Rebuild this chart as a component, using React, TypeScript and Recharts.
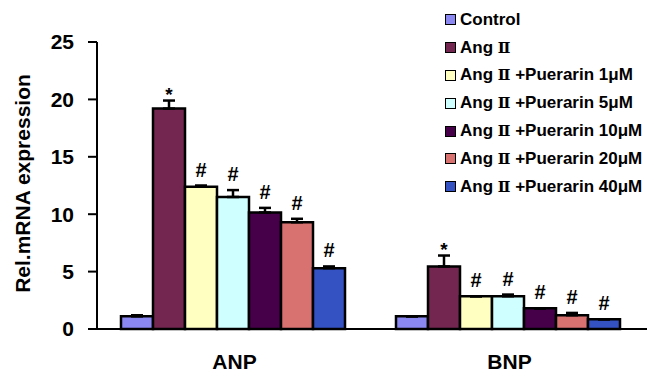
import React from 'react';
import { BarChart, Bar, XAxis, YAxis, ErrorBar, LabelList, Legend, Label } from 'recharts';

const categories = ['ANP', 'BNP'];
const groups = [
  'Control',
  'Ang Ⅱ',
  'Ang Ⅱ +Puerarin 1μM',
  'Ang Ⅱ +Puerarin 5μM',
  'Ang Ⅱ +Puerarin 10μM',
  'Ang Ⅱ +Puerarin 20μM',
  'Ang Ⅱ +Puerarin 40μM',
];
const COLORS = ['#8c88f2', '#73264f', '#ffffc2', '#d0ffff', '#46004a', '#d87270', '#3552c2'];

// one array per group: [ANP, BNP]
const control = [1.1, 1.1];
const angII = [19.2, 5.45];
const pue1 = [12.4, 2.85];
const pue5 = [11.5, 2.85];
const pue10 = [10.15, 1.8];
const pue20 = [9.3, 1.2];
const pue40 = [5.3, 0.85];

const controlErr = [0.1, 0];
const angIIErr = [0.7, 0.95];
const pue1Err = [0.1, 0];
const pue5Err = [0.6, 0.15];
const pue10Err = [0.4, 0];
const pue20Err = [0.3, 0.2];
const pue40Err = [0.15, 0];

const controlMark = ['', ''];
const angIIMark = ['*', '*'];
const pueMark = ['#', '#'];

const yTicks = [0, 5, 10, 15, 20, 25];

const values = [control, angII, pue1, pue5, pue10, pue20, pue40];
const errors = [controlErr, angIIErr, pue1Err, pue5Err, pue10Err, pue20Err, pue40Err];
const marks = [controlMark, angIIMark, pueMark, pueMark, pueMark, pueMark, pueMark];

const data = categories.map((name, i) => {
  const row: any = { name };
  values.forEach((v, k) => {
    row[`g${k}`] = v[i];
    row[`e${k}`] = errors[k][i];
    row[`m${k}`] = marks[k][i];
  });
  return row;
});

const FONT = '"Liberation Sans", Arial, sans-serif';

const renderMark = (k: number) => (props: any) => {
  const { x, y, width, height, value, index } = props;
  if (!value) return null;
  const v = values[k][index];
  const pxPerUnit = v ? height / v : 0;
  const errTop = y - errors[k][index] * pxPerUnit;
  const star = value === '*';
  return (
    <text
      x={x + width / 2}
      y={errTop - (star ? 0 : 9)}
      textAnchor="middle"
      fontFamily={FONT}
      fontWeight={700}
      fontSize={star ? 19 : 20}
      fill="#000"
    >
      {value}
    </text>
  );
};

const LegendContent = () => (
  <div style={{ fontFamily: FONT, fontWeight: 700, fontSize: 17, color: '#000' }}>
    {groups.map((g, i) => {
      const parts = g.split('Ⅱ');
      return (
        <div key={g} style={{ display: 'flex', alignItems: 'center', height: 27.8, whiteSpace: 'nowrap' }}>
          <span
            style={{
              display: 'inline-block',
              width: 9,
              height: 9,
              border: '1.5px solid #000',
              background: COLORS[i],
              marginRight: 4,
            }}
          />
          <span>
            {parts[0]}
            {parts.length > 1 && (
              <span style={{ fontFamily: '"DejaVu Serif", serif', fontWeight: 700, fontSize: 15 }}>Ⅱ</span>
            )}
            {parts[1]}
          </span>
        </div>
      );
    })}
  </div>
);

const YLabel = (props: any) => {
  const { viewBox } = props;
  const cx = viewBox.x + 22;
  const cy = viewBox.y + viewBox.height / 2 - 2;
  return (
    <text
      x={cx}
      y={cy}
      transform={`rotate(-90, ${cx}, ${cy})`}
      textAnchor="middle"
      dominantBaseline="central"
      fontFamily={FONT}
      fontWeight={700}
      fontSize={21}
      fill="#000"
    >
      Rel.mRNA expression
    </text>
  );
};

export default function App() {
  return (
    <div style={{ position: 'absolute', left: 0, top: 0, width: 648, height: 375, background: '#fff' }}>
      <BarChart
        width={648}
        height={375}
        data={data}
        margin={{ top: 42, right: 1, left: 0, bottom: 0 }}
        barGap={0}
        barCategoryGap={24}
      >
        <XAxis
          dataKey="name"
          height={46}
          axisLine={{ stroke: '#000', strokeWidth: 2 }}
          tickLine={false}
          tickSize={0}
          tickMargin={25}
          tick={{ fill: '#000', fontFamily: FONT, fontWeight: 700, fontSize: 21 }}
        />
        <YAxis
          width={97}
          domain={[0, 25]}
          ticks={yTicks}
          interval={0}
          axisLine={{ stroke: '#000', strokeWidth: 2 }}
          tickLine={{ stroke: '#000', strokeWidth: 2 }}
          tickSize={9}
          tickMargin={14}
          tick={{ fill: '#000', fontFamily: FONT, fontWeight: 700, fontSize: 21 }}
        >
          <Label content={<YLabel />} />
        </YAxis>
        <Legend
          layout="vertical"
          align="center"
          verticalAlign="middle"
          wrapperStyle={{ left: 445, top: 6, width: 203 }}
          content={<LegendContent />}
        />
        {groups.map((g, k) => (
          <Bar
            key={g}
            dataKey={`g${k}`}
            name={g}
            fill={COLORS[k]}
            stroke="#000"
            strokeWidth={2.5}
            isAnimationActive={false}
          >
            <ErrorBar
              dataKey={(d: any) => [0, d[`e${k}`]]}
              width={6}
              stroke="#000"
              strokeWidth={2.5}
              direction="y"
              isAnimationActive={false}
            />
            <LabelList dataKey={`m${k}`} content={renderMark(k)} />
          </Bar>
        ))}
      </BarChart>
    </div>
  );
}
